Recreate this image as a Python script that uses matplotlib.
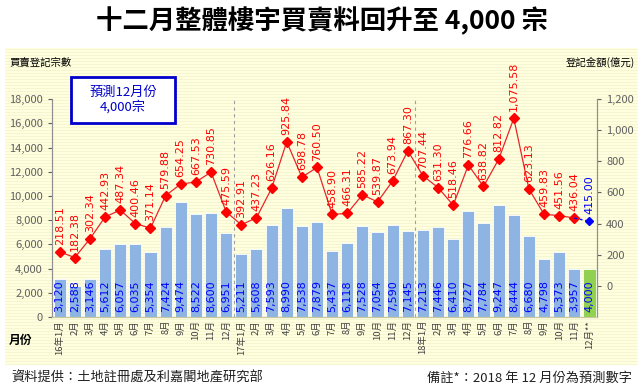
import matplotlib
matplotlib.use("agg")
import matplotlib.pyplot as plt
from matplotlib.patches import Rectangle
import numpy as np

plt.rcParams['font.family'] = ['Noto Sans CJK TC', 'DejaVu Sans']

# month labels (16年1月 ... 18年12月)
months = ["16年1月", "2月", "3月", "4月", "5月", "6月", "7月", "8月", "9月", "10月", "11月", "12月",
          "17年1月", "2月", "3月", "4月", "5月", "6月", "7月", "8月", "9月", "10月", "11月", "12月",
          "18年1月", "2月", "3月", "4月", "5月", "6月", "7月", "8月", "9月", "10月", "11月", "12月**"]

# 買賣登記宗數 (last one is forecast)
counts = [3120, 2588, 3146, 5612, 6057, 6035, 5354, 7424, 9474, 8522, 8600, 6951,
          5211, 5608, 7593, 8990, 7538, 7879, 5437, 6118, 7528, 7054, 7590, 7145,
          7213, 7446, 6410, 8727, 7784, 9247, 8444, 6680, 4798, 5373, 3957, 4000]

# 登記金額(億元) (last one is forecast)
amounts = [218.51, 182.38, 302.34, 442.93, 487.34, 400.46, 371.14, 579.88, 654.25, 667.53, 730.85, 475.59,
           392.91, 437.23, 626.16, 925.84, 698.78, 760.50, 458.90, 466.31, 585.22, 539.87, 673.94, 867.30,
           707.44, 631.30, 518.46, 776.66, 638.82, 812.82, 1075.58, 623.13, 459.83, 451.56, 436.04, 415.00]

x = np.arange(len(months))
n = len(months)

fig = plt.figure(figsize=(6.43, 3.9), dpi=100)
fig.patch.set_facecolor("white")

# light yellow chart panel
panel = Rectangle((0.008, 0.064), 0.982, 0.814, transform=fig.transFigure,
                  facecolor="#FFFFE0", edgecolor="none", zorder=0)
fig.add_artist(panel)
for yy in np.arange(0.066, 0.878, 0.0077):
    fig.add_artist(plt.Line2D([0.008, 0.99], [yy, yy], transform=fig.transFigure,
                              color="#F2F2C8", lw=0.5, zorder=0))

ax = fig.add_axes([0.081, 0.187, 0.8475, 0.559])
ax.set_facecolor("none")
ax2 = ax.twinx()

bar_colors = ["#8DB4E2"] * (n - 1) + ["#92D050"]
ax.bar(x, counts, width=0.8, color=bar_colors, edgecolor="white", linewidth=0.6, zorder=2)
for xi, c in zip(x, counts):
    ax.text(xi, 450, f"{c:,}", rotation=90, ha="center", va="bottom",
            color="#0000FF", fontsize=8, family="DejaVu Sans", zorder=3)

ax.set_xlim(-0.5, n - 0.5)
ax.set_ylim(0, 18000)
ax.set_yticks(np.arange(0, 18001, 2000))
ax.set_yticklabels([f"{v:,}" for v in range(0, 18001, 2000)])
ax.set_xticks(x)
ax.set_xticklabels(months, rotation=90, fontsize=6.8, color="#404040")
ax.tick_params(axis="x", length=0, pad=2)
ax.tick_params(axis="y", colors="#606060", labelsize=8, length=3)

# year separators
for sep in (11.5, 23.5):
    ax.axvline(sep, color="#A0A0A0", lw=0.8, ls=(0, (3, 3)), zorder=1)

# amount line on the right axis
ax2.plot(x[:-1], amounts[:-1], color="#E8262A", lw=0.9, marker="D",
         markersize=5, markerfacecolor="#FF0000", markeredgecolor="#FF0000", zorder=4)
ax2.plot(x[-2:], amounts[-2:], color="#0000FF", lw=1.0, ls=(0, (2, 2)), zorder=4)
ax2.plot(x[-1], amounts[-1], marker="D", markersize=4.5, color="#0000FF", zorder=5)
for xi, a in zip(x, amounts):
    col = "#0000FF" if xi == n - 1 else "#FF0000"
    ax2.annotate(f"{a:,.2f}", (xi, a), xytext=(0, 5), textcoords="offset points",
                 rotation=90, ha="center", va="bottom", color=col, fontsize=8,
                 family="DejaVu Sans", zorder=5)
ax2.set_ylim(-200, 1200)
ax2.set_yticks(np.arange(0, 1201, 200))
ax2.set_yticklabels([f"{v:,}" for v in range(0, 1201, 200)])
ax2.tick_params(axis="y", colors="#606060", labelsize=8, length=3)

for a in (ax, ax2):
    a.spines["top"].set_visible(False)
    a.spines["left"].set_color("#909090")
    a.spines["right"].set_color("#909090")
    a.spines["bottom"].set_color("#C8C8A0")

# titles and labels
fig.text(0.5, 0.945, "十二月整體樓宇買賣料回升至 4,000 宗", ha="center", va="center",
         fontsize=19, fontweight="bold", color="black")
fig.text(0.014, 0.84, "買賣登記宗數", ha="left", va="center", fontsize=7.5, color="black")
fig.text(0.988, 0.84, "登記金額(億元)", ha="right", va="center", fontsize=7.5, color="black")
fig.text(0.014, 0.128, "月份", ha="left", va="center", fontsize=8.5, fontweight="bold")

# forecast note box
fig.add_artist(Rectangle((0.111, 0.685), 0.161, 0.118, transform=fig.transFigure,
                         facecolor="white", edgecolor="#0000CC", lw=2, zorder=6))
fig.text(0.1915, 0.744, "預測12月份\n4,000宗", ha="center", va="center", fontsize=9.5,
         color="#0000CC", linespacing=1.15, zorder=7)

fig.text(0.018, 0.031, "資料提供：土地註冊處及利嘉閣地產研究部", ha="left", va="center",
         fontsize=9.5, color="#202020")
fig.text(0.983, 0.031, "備註*：2018 年 12 月份為預測數字", ha="right", va="center",
         fontsize=9.5, color="#202020")

fig.savefig("out.png", dpi=100)
